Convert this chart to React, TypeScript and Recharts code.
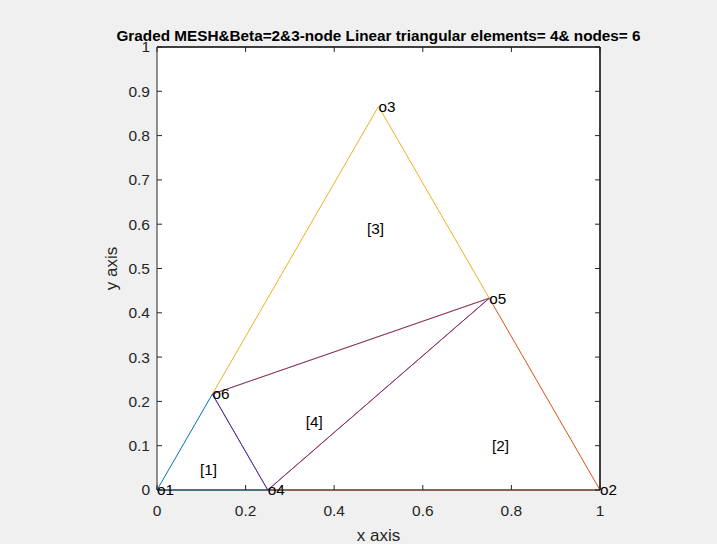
import React from 'react';
import { ComposedChart, Line, Scatter, XAxis, YAxis, CartesianGrid, ReferenceLine } from 'recharts';

// Node coordinates and labels
const nodeX = [0, 1, 0.5, 0.25, 0.75, 0.125];
const nodeY = [0, 0, 0.866, 0, 0.433, 0.2165];
const nodeLabels = ['o1', 'o2', 'o3', 'o4', 'o5', 'o6'];

// Element connectivity (1-based node numbers)
const elements = [
  [1, 4, 6],
  [4, 2, 5],
  [6, 5, 3],
  [4, 5, 6],
];
const elementLabels = ['[1]', '[2]', '[3]', '[4]'];
const elementLabelX = [0.097, 0.756, 0.474, 0.336];
const elementLabelY = [0.047, 0.099, 0.589, 0.154];

const xTicks = [0, 0.2, 0.4, 0.6, 0.8, 1];
const yTicks = [0, 0.1, 0.2, 0.3, 0.4, 0.5, 0.6, 0.7, 0.8, 0.9, 1];

// axes-box corners (x/y limits) used to anchor the mirrored top/right axes
const boxX = [0, 1, 1];
const boxY = [1, 1, 0];

const titleText = 'Graded MESH&Beta=2&3-node Linear triangular elements= 4& nodes= 6';
const xLabel = 'x axis';
const yLabel = 'y axis';

const COLORS = ['#0072BD', '#D95319', '#EDB120', '#7E2F8E'];
const AXIS = '#262626';
const FONT = "'Liberation Sans', Arial, Helvetica, sans-serif";
const TICK_FS = 15.5;
const TEXT_FS = 15.3;
const LABEL_FS = 17;

const elementData = elements.map((el) =>
  [...el, el[0]].map((n) => ({ x: nodeX[n - 1], y: nodeY[n - 1] }))
);
const nodePoints = nodeX.map((x, i) => ({ x, y: nodeY[i], label: nodeLabels[i] }));
const elemPoints = elementLabelX.map((x, i) => ({ x, y: elementLabelY[i], label: elementLabels[i] }));
const boxData = boxX.map((x, i) => ({ x, y: boxY[i] }));

const TextShape = (p: any) => (
  <text
    x={p.cx}
    y={p.cy}
    dy="0.35em"
    fontSize={TEXT_FS}
    fontFamily={FONT}
    fill="#000"
    textAnchor="start"
  >
    {p.payload.label}
  </text>
);

const fmt = (v: number) => String(Math.round(v * 10) / 10);

const BottomTick = (p: any) => (
  <g>
    <line x1={p.x} y1={p.y} x2={p.x} y2={p.y - 5} stroke={AXIS} strokeWidth={1} />
    <text x={p.x} y={p.y + 14.5} dy="0.71em" textAnchor="middle" fontSize={TICK_FS} fontFamily={FONT} fill={AXIS}>
      {fmt(p.payload.value)}
    </text>
  </g>
);
const LeftTick = (p: any) => (
  <g>
    <line x1={p.x} y1={p.y} x2={p.x + 5} y2={p.y} stroke={AXIS} strokeWidth={1} />
    <text x={p.x - 7} y={p.y} dy="0.35em" textAnchor="end" fontSize={TICK_FS} fontFamily={FONT} fill={AXIS}>
      {fmt(p.payload.value)}
    </text>
  </g>
);
const TopTick = (p: any) => (
  <line x1={p.x} y1={p.y} x2={p.x} y2={p.y + 5} stroke={AXIS} strokeWidth={1} />
);
const RightTick = (p: any) => (
  <line x1={p.x} y1={p.y} x2={p.x - 5} y2={p.y} stroke={AXIS} strokeWidth={1} />
);

export default function App() {
  return (
    <div
      style={{
        position: 'absolute',
        left: 0,
        top: 0,
        width: 717,
        height: 544,
        background: '#f0f0f0',
        fontFamily: FONT,
        overflow: 'hidden',
      }}
    >
      <ComposedChart
        width={717}
        height={544}
        margin={{ top: 46, right: 116, bottom: 24, left: 117 }}
      >
        <CartesianGrid fill="#ffffff" horizontal={false} vertical={false} stroke="none" />
        <XAxis
          type="number"
          dataKey="x"
          domain={[0, 1]}
          ticks={xTicks}
          interval={0}
          height={30}
          tickSize={0}
          tickMargin={0}
          stroke={AXIS}
          tickLine={false}
          tick={<BottomTick />}
        />
        <XAxis
          xAxisId="top"
          orientation="top"
          type="number"
          dataKey="x"
          domain={[0, 1]}
          ticks={xTicks}
          interval={0}
          height={1}
          tickSize={0}
          tickMargin={0}
          tickLine={false}
          tick={<TopTick />}
          stroke={AXIS}
        />
        <YAxis
          type="number"
          dataKey="y"
          domain={[0, 1]}
          ticks={yTicks}
          interval={0}
          width={40}
          tickSize={0}
          tickMargin={0}
          stroke={AXIS}
          tickLine={false}
          tick={<LeftTick />}
        />
        <YAxis
          yAxisId="right"
          orientation="right"
          type="number"
          dataKey="y"
          domain={[0, 1]}
          ticks={yTicks}
          interval={0}
          width={1}
          tickSize={0}
          tickMargin={0}
          tickLine={false}
          tick={<RightTick />}
          stroke={AXIS}
        />
        <ReferenceLine y={1} stroke={AXIS} strokeWidth={1} ifOverflow="visible" />
        <ReferenceLine x={1} stroke={AXIS} strokeWidth={1} ifOverflow="visible" />
        <Line
          xAxisId="top"
          yAxisId="right"
          data={boxData}
          dataKey="y"
          type="linear"
          stroke={AXIS}
          strokeWidth={1}
          dot={false}
          activeDot={false}
          isAnimationActive={false}
        />
        {elementData.map((d, i) => (
          <Line
            key={i}
            data={d}
            dataKey="y"
            type="linear"
            stroke={COLORS[i]}
            strokeWidth={1}
            dot={false}
            activeDot={false}
            isAnimationActive={false}
          />
        ))}
        <Scatter data={nodePoints} dataKey="y" shape={TextShape} isAnimationActive={false} />
        <Scatter data={elemPoints} dataKey="y" shape={TextShape} isAnimationActive={false} />
      </ComposedChart>
      <div
        style={{
          position: 'absolute',
          left: 0,
          width: 757,
          top: 27.5,
          textAlign: 'center',
          fontWeight: 'bold',
          fontSize: 15.3,
          lineHeight: '15.3px',
          color: '#000',
          whiteSpace: 'nowrap',
        }}
      >
        {titleText}
      </div>
      <div
        style={{
          position: 'absolute',
          left: 278.5,
          width: 200,
          top: 526.6,
          textAlign: 'center',
          fontSize: LABEL_FS,
          lineHeight: `${LABEL_FS}px`,
          color: AXIS,
          whiteSpace: 'nowrap',
        }}
      >
        {xLabel}
      </div>
      <div
        style={{
          position: 'absolute',
          left: 60.5,
          width: 100,
          top: 259.5,
          height: LABEL_FS,
          textAlign: 'center',
          fontSize: LABEL_FS,
          lineHeight: `${LABEL_FS}px`,
          color: AXIS,
          whiteSpace: 'nowrap',
          transform: 'rotate(-90deg)',
        }}
      >
        {yLabel}
      </div>
    </div>
  );
}
